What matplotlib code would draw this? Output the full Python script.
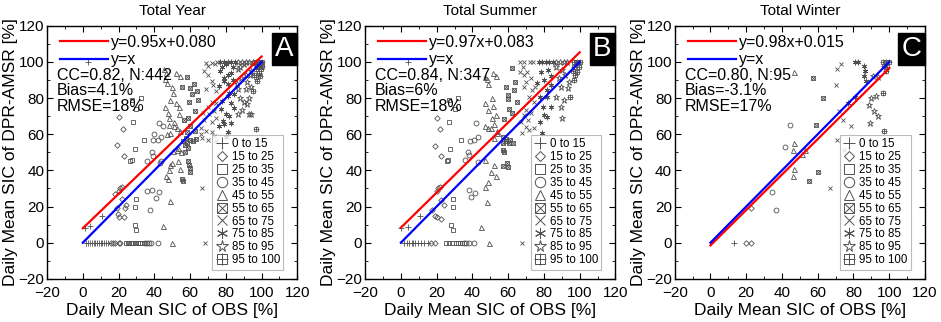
import matplotlib.pyplot as plt
from matplotlib.lines import Line2D
from matplotlib.legend_handler import HandlerTuple

plt.rcParams['font.family'] = ['Liberation Sans', 'DejaVu Sans']

# Klasy SIC (przedziały OBS)
labels = ["0 to 15", "15 to 25", "25 to 35", "35 to 45", "45 to 55",
          "55 to 65", "65 to 75", "75 to 85", "85 to 95", "95 to 100"]

titles = ["Total Year", "Total Summer", "Total Winter"]
letters = ["A", "B", "C"]
fit_labels = ["y=0.95x+0.080", "y=0.97x+0.083", "y=0.98x+0.015"]
slopes = [0.95, 0.97, 0.98]
intercepts = [8.0, 8.3, -1.5]
stats = ["CC=0.82, N:442\nBias=4.1%\nRMSE=18%",
         "CC=0.84, N:347\nBias=6%\nRMSE=18%",
         "CC=0.80, N:95\nBias=-3.1%\nRMSE=17%"]

# Punkty (OBS, DPR-AMSR), po jednej liście na klasę
year_pts = [
    [(2, 0), (3, 0), (4, 0), (5, 0), (6, 0), (7, 0), (8, 0), (9, 0), (10, 0), (11, 0), (12, 0), (13, 0), (14, 0),
     (1, 8), (4, 9), (11, 15), (3, 100)],
    [(16, 0), (17, 0), (18, 0), (20, 0), (21, 0), (20.5, 69.5), (22.4, 63), (19.4, 54), (23.3, 48), (20, 28.6),
     (21, 30), (22, 31), (24, 21), (19, 19), (19.6, 16), (20.5, 14), (23, 14), (23.5, 19), (22, 24), (18, 27)],
    [(27.4, 79), (32.6, 80), (30, 74), (28, 67), (34.5, 57), (29, 52), (26.5, 45), (27.4, 46), (29.7, 24),
     (29.3, 20), (29, 10), (30, 7), (24, 0), (25, 0), (26, 0), (27, 0), (28, 0), (29, 0), (30, 0), (31, 0),
     (32, 0), (33, 0), (34, 0)],
    [(42.5, 66), (44.6, 64.5), (39.5, 57), (42.3, 57), (44, 58.5), (38.5, 50), (39, 48), (36, 45), (44, 45),
     (36, 28.6), (38.5, 29), (41, 25), (42.5, 28), (37.7, 18), (41.8, 0), (35, 0), (36, 0), (37, 0), (38, 0),
     (43, 44), (40, 60)],
    [(50, 0), (45, 9), (49, 23), (46.8, 37), (47.5, 35), (48.4, 40), (54.5, 41), (53.5, 45), (52.6, 51),
     (50.7, 50.5), (47, 60), (49, 60.5), (51, 64.5), (48.4, 65), (45.3, 96), (46.6, 94), (46, 90.5), (47, 88.5),
     (52, 94), (54.3, 92), (50, 86), (50.2, 83), (48.5, 79), (52, 77.5), (53.7, 75), (46, 75), (47.5, 72),
     (48.4, 69), (53.7, 71), (51, 67), (52.6, 63.5), (54.3, 62), (53.5, 52.6), (54.8, 50), (49.7, 44), (48.8, 43)],
    [(58, 91.7), (55.2, 86), (59.9, 85.4), (61, 82), (59.6, 78), (64.5, 79), (62.6, 73), (59, 69), (56.7, 68),
     (60, 64.5), (58, 61), (57.5, 58), (60, 57), (61.7, 56), (63.5, 57.5), (57, 54), (59, 52.6), (57, 50),
     (58.6, 45), (59.3, 43), (60, 41.5), (60, 39), (55.5, 35), (56, 34), (62, 88), (64, 84), (63, 62), (56, 56),
     (58, 55)],
    [(69, 99.6), (72, 99.6), (70, 98), (73.7, 99), (68, 95), (70, 93), (72, 89.5), (69, 85), (73, 87), (74.5, 84),
     (72, 78), (74.6, 77.5), (70, 75), (67, 72), (70.7, 71), (73.6, 73), (68, 68), (72, 67), (74.5, 69), (66, 63.6),
     (69, 62), (72, 61), (66.6, 58), (70, 57), (73.5, 59), (74.5, 56), (66.7, 30), (68.5, 0), (66, 60), (75, 100)],
    [(79, 91), (83, 94), (81, 87.6), (77.7, 78.4), (81, 81), (83, 77.5), (84.7, 74.7), (77.3, 73.8), (80, 71),
     (81.8, 70), (78.3, 67.3), (76.4, 64.6), (79, 65.5), (82.8, 66.4), (81, 61), (79, 89.5), (76.4, 86.7), (81, 93),
     (84, 97), (80, 99), (78, 97), (82, 83), (84.5, 82), (80.3, 58.7), (77, 100), (79, 100), (81, 100), (83, 100),
     (85, 100), (77, 95), (84, 90)],
    [(90, 78), (93, 71), (89, 73.6), (87, 71), (94, 71), (92, 76.5), (88, 80), (93, 80), (91, 85), (86.7, 85),
     (88.4, 91), (92, 89), (93.4, 93), (86.7, 96), (90, 99), (87, 100), (89, 100), (91, 100), (93, 100), (95, 100),
     (94, 95), (88, 97), (91, 93), (86, 88), (94, 86)],
    [(96.7, 62.7), (95.4, 84), (97.6, 89.5), (96.7, 91.4), (98.5, 94), (99.4, 96), (97.6, 97.8), (95.8, 99.6),
     (99.4, 99.6), (98.5, 97), (96.7, 96), (97, 100), (98.5, 100), (100, 100), (99, 92), (96, 93), (100, 98)],
]

summer_pts = [
    [(2, 0), (3.3, 0), (4.5, 0), (6, 0), (7, 0), (8, 0), (9.5, 0), (11, 0), (13, 0), (15, 0), (3.9, 8.9), (0, 8),
     (10.7, 14.8), (4, 100)],
    [(20, 69), (21.8, 63), (19, 53.7), (22.6, 48), (21, 30.4), (20, 28.8), (22, 31), (22.6, 23.6), (24.4, 21),
     (17.5, 18), (19, 15), (20, 14), (22.6, 13.3), (17, 0), (19, 0)],
    [(26.8, 79), (32, 80), (30, 74), (27, 67), (33.8, 57), (27.7, 52), (26, 45), (26.5, 46), (29, 24), (29, 20),
     (28, 10), (29, 7), (25.5, 0), (27, 0), (28.5, 0), (31, 0), (32, 0), (33, 0), (34, 0)],
    [(41.8, 66.4), (38.4, 56.5), (40.8, 57), (43.4, 58.7), (37.5, 50.4), (37.9, 48.5), (35.7, 45.8), (43.4, 44.8),
     (37.9, 29), (39.4, 25.5), (41.6, 27.7), (41, 0), (35.5, 0), (36.5, 0), (38, 0)],
    [(46.8, 91.5), (48, 90.4), (48.6, 88), (51.4, 93.7), (53.2, 92), (50.8, 80), (46.8, 77), (51.8, 75.6),
     (48.6, 73.4), (53.2, 70.6), (50.8, 68.8), (47.3, 64.6), (48.6, 63.6), (50.4, 63.3), (51.9, 65.7), (53.6, 60.5),
     (47.2, 45.8), (51.9, 43), (50.6, 39), (53.2, 37), (48.6, 33.4), (46.8, 31), (48.2, 22.7), (44.9, 8.5),
     (49.5, 0), (54, 62), (52, 58)],
    [(62, 96.9), (59, 86), (59.9, 81.7), (59.7, 79.7), (64, 88.7), (63.5, 84.5), (64.7, 78), (60.6, 74), (57.9, 68.3),
     (62, 71.6), (56.9, 58.3), (58.8, 56), (60.6, 55), (62.5, 55.4), (56.9, 51.3), (57.9, 50.4), (59.3, 43.9),
     (59.7, 42), (56.9, 42.6), (57, 55), (61, 57), (59, 57.5)],
    [(66.9, 100), (68.6, 100), (68.2, 97.4), (66.9, 94.6), (69, 92.8), (70.8, 94.6), (72.6, 91), (70, 89),
     (68.6, 86), (73.5, 84.5), (75, 86), (71.7, 80.8), (74.5, 78), (70, 73.4), (72.6, 72), (69, 70.8), (71, 68),
     (67, 67), (70.2, 64), (71.5, 62.4), (67.8, 60.5), (74.5, 63.3), (68, 0), (72, 100), (74, 100)],
    [(78, 67), (80, 70.7), (81.9, 69.7), (79.7, 75.3), (83.7, 75.3), (81.9, 80.8), (78, 80.4), (79, 60.5),
     (81.5, 84.5), (76.3, 88.2), (80, 90), (83.7, 87.3), (78.6, 94.6), (82.3, 95.6), (77, 100), (79, 100),
     (81, 100), (83, 100), (85, 100), (84, 92)],
    [(90.2, 68.8), (89.7, 75.3), (86.5, 80.8), (91, 79), (93.3, 85.4), (89.3, 86.3), (93.9, 89), (88.4, 91),
     (90.2, 95.6), (86.5, 97.4), (87, 100), (89, 100), (91, 100), (93, 100), (92, 93)],
    [(94.8, 80.8), (96.7, 90), (97.6, 92.8), (98.5, 94.6), (99.4, 97.4), (97, 97.4), (98.9, 99.3), (96.7, 100),
     (98.5, 100), (100, 100), (96, 95)],
]

winter_pts = [
    [(12.9, 0)],
    [(19.7, 0), (22.9, 0), (22.9, 19)],
    [],
    [(44.6, 65), (41.9, 52.8), (34.5, 28.2), (36.9, 18.1)],
    [(47, 94.5), (47, 55), (46, 51), (47, 41), (46, 36.7), (51, 49), (53, 51)],
    [(57.6, 91), (63, 80), (59, 65), (60, 39), (55, 34)],
    [(66.8, 30), (70.8, 96), (70, 87.3), (73, 99), (70.8, 57), (74.5, 51), (74, 68), (78.8, 64.8), (72, 73)],
    [(80.6, 100), (82.5, 100), (86, 98), (86.7, 95), (85.8, 92.4), (87, 89.7), (80.6, 80.4), (77, 77)],
    [(88.4, 76.4), (89.9, 79.9), (92.6, 81), (91.7, 73), (93.5, 70), (89, 66), (93.5, 91.5), (91, 92)],
    [(96.3, 82.7), (96.9, 62), (96.3, 100), (98.2, 100), (100, 100), (97, 98), (98.9, 97), (98, 95)],
]

panels = [year_pts, summer_pts, winter_pts]

gray = "#505050"
# znaczniki: lista nakładanych symboli dla każdej klasy
marker_sets = [["+"], ["D"], ["s"], ["o"], ["^"], ["s", "x"], ["x"], [(6, 2, 0)], ["*"], ["s", "+"]]
small = {"+": 4, "D": 2.8, "s": 3.2, "o": 3.5, "^": 3.6, "x": 3.2, "*": 4.5, "ast": 4.0}
big = {"+": 8, "D": 5.5, "s": 7, "o": 7.5, "^": 7.5, "x": 7, "*": 8.5, "ast": 8}


def msize(m, table):
    if isinstance(m, tuple):
        return table["ast"]
    return table[m]


fig = plt.figure(figsize=(9.41, 3.22), dpi=100)
lefts = [0.050, 0.388, 0.717]

for i, pts in enumerate(panels):
    ax = fig.add_axes([lefts[i], 0.134, 0.266, 0.786])

    # punkty
    for cls, mset in zip(pts, marker_sets):
        if not cls:
            continue
        xs = [p[0] for p in cls]
        ys = [p[1] for p in cls]
        for m in mset:
            ax.plot(xs, ys, linestyle="none", marker=m, ms=msize(m, small),
                    mfc="none", mec=gray, mew=0.6)

    # linie
    lx = [0, 100]
    red, = ax.plot(lx, [slopes[i] * v + intercepts[i] for v in lx], color="red", lw=1.6)
    blue, = ax.plot(lx, lx, color="blue", lw=1.6)
    leg1 = ax.legend([red, blue], [fit_labels[i], "y=x"], loc="upper left",
                     bbox_to_anchor=(-0.005, 1.02), frameon=False, fontsize=11.5,
                     handlelength=3.0, handletextpad=0.2, labelspacing=0.15)
    ax.add_artist(leg1)

    ax.text(0.04, 0.835, stats[i], transform=ax.transAxes, fontsize=11.5,
            va="top", ha="left", linespacing=1.08)

    # legenda klas
    handles = []
    for mset in marker_sets:
        hs = tuple(Line2D([], [], linestyle="none", marker=m, ms=msize(m, big),
                          mfc="none", mec=gray, mew=0.7) for m in mset)
        handles.append(hs)
    leg2 = ax.legend(handles, labels, loc="lower right", bbox_to_anchor=(0.944, 0.036),
                     borderaxespad=0, fontsize=8.3, frameon=True, fancybox=False,
                     edgecolor="#aaaaaa", handlelength=1.0, handletextpad=0.35,
                     labelspacing=0.08, borderpad=0.3,
                     handler_map={tuple: HandlerTuple(ndivide=1)})
    leg2.get_frame().set_linewidth(0.8)

    ax.text(0.985, 0.96, letters[i], transform=ax.transAxes, color="white",
            fontsize=20, ha="right", va="top",
            bbox=dict(facecolor="black", edgecolor="black", pad=2.5))

    ax.set_xlim(-20, 120)
    ax.set_ylim(-20, 120)
    ax.set_xticks(range(-20, 121, 20))
    ax.set_yticks(range(-20, 121, 20))
    ax.set_xticks(range(-10, 120, 20), minor=True)
    ax.set_yticks(range(-10, 120, 20), minor=True)
    ax.tick_params(which="both", direction="in", top=True, right=True, labelsize=11)
    ax.tick_params(axis="x", pad=5)
    ax.tick_params(axis="y", pad=2)
    ax.tick_params(which="major", length=4)
    ax.tick_params(which="minor", length=2.5)
    for s in ax.spines.values():
        s.set_linewidth(1.0)

    ax.set_xlabel("Daily Mean SIC of OBS [%]", fontsize=12.5, labelpad=2.5)
    ax.set_ylabel("Daily Mean SIC of DPR-AMSR [%]", fontsize=12.5, labelpad=0)
    ax.set_title(titles[i], fontsize=11, pad=8)

fig.savefig("out.png", dpi=100)
